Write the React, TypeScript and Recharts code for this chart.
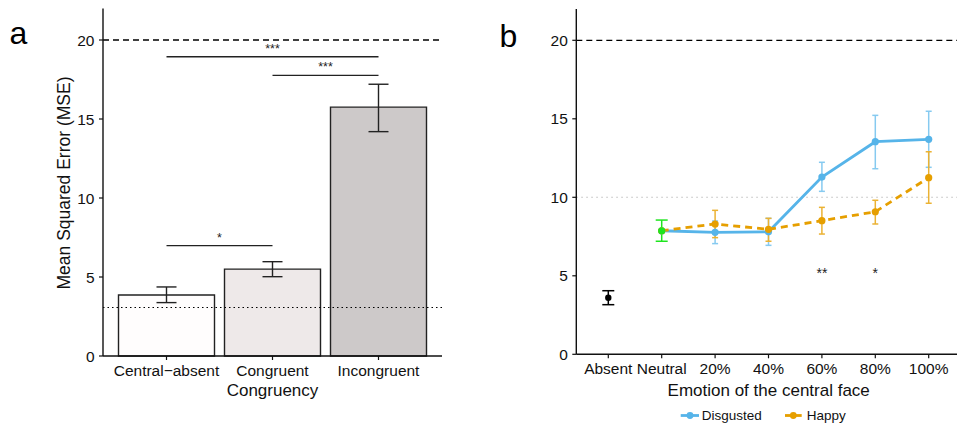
import React from "react";
import {
  Bar,
  BarChart,
  Cell,
  ComposedChart,
  ErrorBar,
  Label,
  Line,
  ReferenceDot,
  ReferenceLine,
  XAxis,
  YAxis,
} from "recharts";

// panel a: MSE by congruency
const congruencyCats = ["Central\u2212absent", "Congruent", "Incongruent"];
const mseMean = [3.86, 5.5, 15.75];
const mseLow = [3.38, 5.02, 14.2];
const mseHigh = [4.37, 5.97, 17.2];

const sigBracketsA = [
  { from: "Central\u2212absent", to: "Congruent", y: 6.98, text: "*" },
  { from: "Central\u2212absent", to: "Incongruent", y: 18.94, text: "***" },
  { from: "Congruent", to: "Incongruent", y: 17.76, text: "***" },
];

// panel b: MSE by emotion of the central face
const emotionCats = ["Absent", "Neutral", "20%", "40%", "60%", "80%", "100%"];
const absentMean = [3.6, null, null, null, null, null, null];
const absentLow = [3.16, null, null, null, null, null, null];
const absentHigh = [4.05, null, null, null, null, null, null];
const neutralMean = [null, 7.87, null, null, null, null, null];
const neutralLow = [null, 7.2, null, null, null, null, null];
const neutralHigh = [null, 8.55, null, null, null, null, null];
const disgustedMean = [null, 7.87, 7.77, 7.8, 11.29, 13.54, 13.69];
const disgustedLow = [null, null, 7.05, 6.94, 10.38, 11.82, 11.91];
const disgustedHigh = [null, null, 8.49, 8.66, 12.23, 15.22, 15.48];
const happyMean = [null, 7.87, 8.3, 7.96, 8.51, 9.08, 11.25];
const happyLow = [null, null, 7.43, 7.2, 7.66, 8.3, 9.62];
const happyHigh = [null, null, 9.17, 8.66, 9.36, 9.81, 12.9];

const sigMarksB = [
  { cat: "60%", y: 5.2, text: "**" },
  { cat: "80%", y: 5.2, text: "*" },
];

const yTicks = [0, 5, 10, 15, 20];
const yMax = 22;
const chanceLine = 20;
const floorA = 3.07;
const midB = 10;

const barFills = ["#fffdfd", "#eee9e9", "#cdc9c9"];
const BLUE = "#56B4E9";
const ORANGE = "#E69F00";
const GREEN = "#1ee51e";
const FONT = '"Liberation Sans", Arial, Helvetica, sans-serif';

const errOf = (m: number | null, lo: number | null, hi: number | null) =>
  m == null || lo == null || hi == null ? null : [m - lo, hi - m];

const barData = congruencyCats.map((name, i) => ({
  name,
  mse: mseMean[i],
  err: errOf(mseMean[i], mseLow[i], mseHigh[i]),
}));

const emotionData = emotionCats.map((cat, i) => ({
  cat,
  absent: absentMean[i],
  absentErr: errOf(absentMean[i], absentLow[i], absentHigh[i]),
  neutral: neutralMean[i],
  neutralErr: errOf(neutralMean[i], neutralLow[i], neutralHigh[i]),
  disgusted: disgustedMean[i],
  disgustedErr: errOf(disgustedMean[i], disgustedLow[i], disgustedHigh[i]),
  happy: happyMean[i],
  happyErr: errOf(happyMean[i], happyLow[i], happyHigh[i]),
}));

const tickStyle = { fontSize: 15.5, fill: "#111", fontFamily: FONT };
const axisLineStyle = { stroke: "#111", strokeWidth: 1.4 };
const tickLineStyle = { stroke: "#111", strokeWidth: 1.2 };

const xTitle = (text: string, cx: number, baseline: number) => () =>
  (
    <text x={cx} y={baseline} textAnchor="middle" fontSize={17} fill="#111" fontFamily={FONT}>
      {text}
    </text>
  );

const yTitle = (text: string, cx: number, cy: number) => () =>
  (
    <text
      x={cx}
      y={cy}
      transform={`rotate(-90 ${cx} ${cy})`}
      textAnchor="middle"
      dominantBaseline="central"
      fontSize={17.5}
      fill="#111"
      fontFamily={FONT}
    >
      {text}
    </text>
  );

function PanelA() {
  return (
    <BarChart
      width={460}
      height={425}
      data={barData}
      margin={{ top: 8.4, right: 18, bottom: 0, left: 0 }}
      barSize={96}
    >
      <XAxis
        dataKey="name"
        interval={0}
        height={69}
        padding={{ left: 10.5, right: 10.5 }}
        tickSize={4}
        tickMargin={5}
        tick={tickStyle}
        axisLine={axisLineStyle}
        tickLine={tickLineStyle}
      >
        <Label content={xTitle("Congruency", 272.5, 396)} />
      </XAxis>
      <YAxis
        type="number"
        domain={[0, yMax]}
        ticks={yTicks}
        width={103}
        tickSize={4}
        tickMargin={4.5}
        tick={tickStyle}
        axisLine={axisLineStyle}
        tickLine={tickLineStyle}
      >
        <Label content={yTitle("Mean Squared Error (MSE)", 63.5, 183)} />
      </YAxis>
      <Bar dataKey="mse" stroke="#222" strokeWidth={1.4} isAnimationActive={false}>
        {barData.map((d, i) => (
          <Cell key={d.name} fill={barFills[i]} />
        ))}
        <ErrorBar dataKey="err" direction="y" width={10} stroke="#222" strokeWidth={1.4} />
      </Bar>
      <ReferenceLine y={chanceLine} stroke="#000" strokeWidth={1.3} strokeDasharray="6 4" />
      <ReferenceLine y={floorA} stroke="#000" strokeWidth={1.2} strokeDasharray="1.5 3" />
      {sigBracketsA.map((s) => (
        <ReferenceLine
          key={s.from + s.to}
          segment={[
            { x: s.from, y: s.y },
            { x: s.to, y: s.y },
          ]}
          stroke="#222"
          strokeWidth={1.3}
          label={{ value: s.text, position: "top", offset: 4, fontSize: 12.5, fill: "#222" }}
        />
      ))}
    </BarChart>
  );
}

function PanelB() {
  return (
    <ComposedChart
      width={471}
      height={425}
      data={emotionData}
      margin={{ top: 8.9, right: 0, bottom: 0, left: 0 }}
    >
      <XAxis
        dataKey="cat"
        interval={0}
        height={70.7}
        padding={{ left: 32, right: 32.3 }}
        tickSize={4}
        tickMargin={5}
        tick={tickStyle}
        axisLine={axisLineStyle}
        tickLine={tickLineStyle}
      >
        <Label content={xTitle("Emotion of the central face", 278.7, 395.5)} />
      </XAxis>
      <YAxis
        type="number"
        domain={[0, yMax]}
        ticks={yTicks}
        width={86.3}
        tickSize={4}
        tickMargin={4.5}
        tick={tickStyle}
        axisLine={axisLineStyle}
        tickLine={tickLineStyle}
      />
      <ReferenceLine y={chanceLine} stroke="#000" strokeWidth={1.3} strokeDasharray="6 4" />
      <ReferenceLine y={midB} stroke="#bdbdbd" strokeWidth={1.1} strokeDasharray="1.5 3.5" />
      <Line
        dataKey="disgusted"
        stroke={BLUE}
        strokeWidth={2.8}
        dot={{ r: 3.6, fill: BLUE, stroke: "none" }}
        isAnimationActive={false}
      >
        <ErrorBar dataKey="disgustedErr" direction="y" width={3} stroke="#86caf0" strokeWidth={1.5} />
      </Line>
      <Line
        dataKey="happy"
        stroke={ORANGE}
        strokeWidth={2.8}
        strokeDasharray="7 5"
        dot={{ r: 3.6, fill: ORANGE, stroke: "none", strokeDasharray: "0" }}
        isAnimationActive={false}
      >
        <ErrorBar dataKey="happyErr" direction="y" width={3} stroke="#ebb233" strokeWidth={1.5} />
      </Line>
      <Line
        dataKey="neutral"
        stroke="none"
        dot={{ r: 3.6, fill: GREEN, stroke: "none" }}
        isAnimationActive={false}
      >
        <ErrorBar dataKey="neutralErr" direction="y" width={6} stroke={GREEN} strokeWidth={1.5} />
      </Line>
      <Line
        dataKey="absent"
        stroke="none"
        dot={{ r: 3.2, fill: "#000", stroke: "none" }}
        isAnimationActive={false}
      >
        <ErrorBar dataKey="absentErr" direction="y" width={6} stroke="#000" strokeWidth={1.5} />
      </Line>
      {sigMarksB.map((s) => (
        <ReferenceDot
          key={s.cat}
          x={s.cat}
          y={s.y}
          r={0}
          fill="none"
          stroke="none"
          label={{ value: s.text, position: "center", fontSize: 14, fill: "#222" }}
        />
      ))}
    </ComposedChart>
  );
}

export default function App() {
  return (
    <div
      style={{
        position: "absolute",
        left: 0,
        top: 0,
        width: 957,
        height: 425,
        overflow: "hidden",
        background: "#fff",
        fontFamily: FONT,
      }}
    >
      <div style={{ position: "absolute", left: 0, top: 0 }}>
        <PanelA />
      </div>
      <div style={{ position: "absolute", left: 490, top: 0 }}>
        <PanelB />
      </div>
      <svg
        width={957}
        height={425}
        style={{ position: "absolute", left: 0, top: 0, pointerEvents: "none" }}
      >
        <text x={9.5} y={43.5} fontSize={32} fill="#000" fontFamily={FONT}>
          a
        </text>
        <text x={499.5} y={46.5} fontSize={32} fill="#000" fontFamily={FONT}>
          b
        </text>
        <line x1={680.7} x2={699} y1={415.5} y2={415.5} stroke={BLUE} strokeWidth={2.8} />
        <circle cx={690} cy={415.5} r={3.4} fill={BLUE} />
        <text x={701.7} y={419.7} fontSize={13.5} fill="#111" fontFamily={FONT}>
          Disgusted
        </text>
        <line x1={785} x2={801.7} y1={415.5} y2={415.5} stroke={ORANGE} strokeWidth={2.8} />
        <circle cx={793.3} cy={415.5} r={3.4} fill={ORANGE} />
        <text x={806.7} y={419.7} fontSize={13.5} fill="#111" fontFamily={FONT}>
          Happy
        </text>
      </svg>
    </div>
  );
}
